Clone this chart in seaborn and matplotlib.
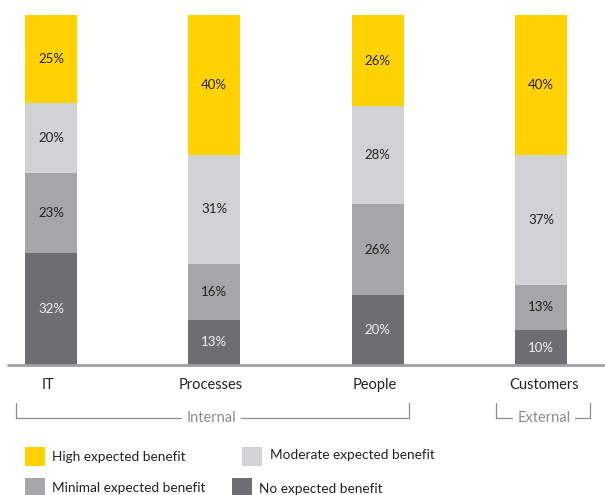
import matplotlib
matplotlib.use("Agg")
import matplotlib.pyplot as plt
import seaborn as sns
import pandas as pd
import numpy as np
from matplotlib.patches import Rectangle
from matplotlib.lines import Line2D

categories = ["IT", "Processes", "People", "Customers"]
series_names = ["No expected benefit", "Minimal expected benefit",
                "Moderate expected benefit", "High expected benefit"]
no_benefit = [32, 13, 20, 10]
minimal_benefit = [23, 16, 26, 13]
moderate_benefit = [20, 31, 28, 37]
high_benefit = [25, 40, 26, 40]
colors = ["#6D6E71", "#A6A6A9", "#D1D2D4", "#FFD200"]
label_colors = ["#F2F2F2", "#222222", "#222222", "#222222"]

sns.set_theme(style="white")
plt.rcParams['font.family'] = ['Lato', 'DejaVu Sans']

W, H = 605, 495
fig = plt.figure(figsize=(W / 100, H / 100), dpi=100)

def fx(px):
    return px / W

def fy(py):
    return 1 - py / H

ax = fig.add_axes([fx(8), fy(365), fx(605) - fx(8), 365 / H])

layers = [no_benefit, minimal_benefit, moderate_benefit, high_benefit]
cum = np.cumsum(np.array(layers), axis=0)
df = pd.DataFrame({"category": categories})
for i in range(len(layers)):
    df[f"cum{i}"] = cum[i]

for i in reversed(range(len(layers))):
    sns.barplot(data=df, x="category", y=f"cum{i}", color=colors[i],
                width=0.318, saturation=1, ax=ax, order=categories,
                edgecolor="none", linewidth=0)

# value labels
for i, layer in enumerate(layers):
    for j, v in enumerate(layer):
        base = cum[i][j] - v
        ax.text(j, base + v / 2, f"{v}%", ha="center", va="center",
                fontsize=9.5, color=label_colors[i])

ax.set_xlim(-0.263, 3.392)
ax.set_ylim(0, 104.3)
ax.set_xlabel("")
ax.set_ylabel("")
ax.set_xticks([])
ax.set_yticks([])
for s in ax.spines.values():
    s.set_visible(False)
ax.axhline(0, color="#A0A0A2", linewidth=2, clip_on=False)

# category labels
xpix = [48, 211, 375, 544]
for c, xp in zip(categories, xpix):
    fig.text(fx(xp), fy(385), c, ha="center", va="center", fontsize=10.5,
             color="#222222")

# brackets
bc = "#8C8C8E"
def bracket(x0, x1, tx, text, g0, g1):
    y_top, y_bot = 403, 418
    fig.add_artist(Line2D([fx(x0), fx(x0), fx(g0)], [fy(y_top), fy(y_bot), fy(y_bot)],
                          color=bc, linewidth=0.9))
    fig.add_artist(Line2D([fx(g1), fx(x1), fx(x1)], [fy(y_bot), fy(y_bot), fy(y_top)],
                          color=bc, linewidth=0.9))
    fig.text(fx(tx), fy(418), text, ha="center", va="center", fontsize=10.5, color=bc)

bracket(16, 409, 211, "Internal", 181, 241)
bracket(496, 590, 544, "External", 512, 575)

# legend
legend_items = [
    (25, 447, 52, 457, series_names[3], colors[3]),
    (242, 447, 270, 455, series_names[2], colors[2]),
    (25, 478, 52, 488, series_names[1], colors[1]),
    (232, 478, 259, 489, series_names[0], colors[0]),
]
for sx, sy, tx, ty, name, col in legend_items:
    fig.add_artist(Rectangle((fx(sx), fy(sy + 19)), 20 / W, 19 / H,
                             facecolor=col, edgecolor="none",
                             transform=fig.transFigure))
    fig.text(fx(tx), fy(ty), name, ha="left", va="center", fontsize=9.8,
             color="#222222")

fig.savefig("out.png", dpi=100)
